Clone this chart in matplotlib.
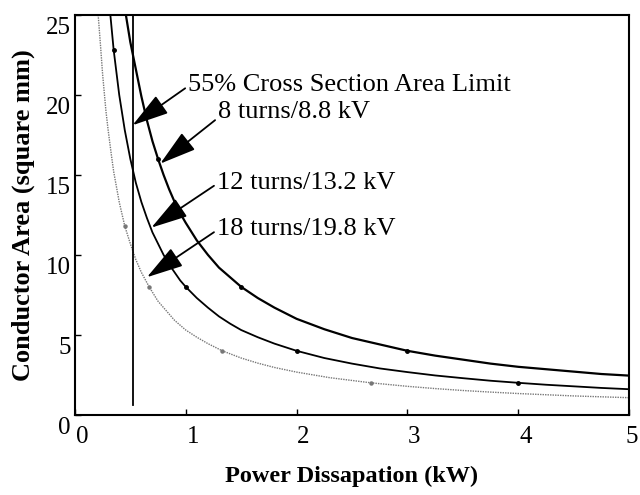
import matplotlib
matplotlib.use('Agg')
import matplotlib.pyplot as plt
from matplotlib.transforms import ScaledTranslation

plt.rcParams['font.family'] = ['Liberation Serif', 'DejaVu Serif']

# 8 turns / 8.8 kV
p_8 = [0.46, 0.50, 0.55, 0.60, 0.65, 0.70, 0.75, 0.80, 0.85, 0.90, 0.95, 1.00,
       1.10, 1.20, 1.30, 1.40, 1.50, 1.65, 1.80, 2.00, 2.25, 2.50, 2.75, 3.00,
       3.25, 3.50, 3.75, 4.00, 4.25, 4.50, 4.75, 5.00]
a_8 = [25.0, 23.3, 21.6, 19.9, 18.4, 17.1, 16.0, 15.0, 14.1, 13.3, 12.6, 12.0,
       10.9, 10.0, 9.2, 8.6, 8.0, 7.3, 6.7, 6.0, 5.35, 4.8, 4.4, 4.0,
       3.7, 3.45, 3.2, 3.0, 2.85, 2.7, 2.55, 2.45]
# 12 turns / 13.2 kV
p_12 = [0.32, 0.35, 0.40, 0.45, 0.50, 0.55, 0.60, 0.65, 0.70, 0.75, 0.80, 0.85,
        0.90, 0.95, 1.00, 1.10, 1.20, 1.30, 1.40, 1.50, 1.65, 1.80, 2.00, 2.25,
        2.50, 2.75, 3.00, 3.25, 3.50, 3.75, 4.00, 4.25, 4.50, 4.75, 5.00]
a_12 = [25.0, 22.8, 20.0, 17.8, 16.0, 14.5, 13.3, 12.3, 11.4, 10.7, 10.0, 9.4,
        8.9, 8.4, 8.0, 7.3, 6.7, 6.15, 5.7, 5.3, 4.85, 4.45, 4.0, 3.55,
        3.2, 2.9, 2.67, 2.46, 2.29, 2.13, 2.0, 1.88, 1.78, 1.68, 1.6]
# 18 turns / 19.8 kV
p_18 = [0.21, 0.23, 0.25, 0.28, 0.30, 0.33, 0.35, 0.40, 0.45, 0.50, 0.55, 0.60,
        0.67, 0.75, 0.80, 0.90, 1.00, 1.10, 1.20, 1.33, 1.50, 1.65, 1.80, 2.00,
        2.30, 2.67, 3.00, 3.25, 3.50, 3.75, 4.00, 4.50, 5.00]
a_18 = [25.0, 23.2, 21.3, 19.0, 17.8, 16.2, 15.2, 13.3, 11.8, 10.7, 9.7, 8.9,
        8.0, 7.1, 6.7, 5.9, 5.3, 4.85, 4.45, 4.0, 3.55, 3.23, 2.96, 2.67,
        2.32, 2.0, 1.78, 1.64, 1.52, 1.42, 1.33, 1.18, 1.07]

# the little dots on each curve
dot_p_8 = [0.75, 1.50, 3.00]
dot_p_12 = [0.35, 1.00, 2.00, 4.00]
dot_p_18 = [0.45, 0.67, 1.33, 2.67]

# 55% cross section area limit (vertical line)
limit_p = [0.52, 0.52]
limit_a = [0.6, 25.0]

fig = plt.figure(figsize=(6.4, 4.95), dpi=100)
ax = fig.add_axes([0.117, 0.162, 0.866, 0.808])

ax.plot(p_8, a_8, color='black', lw=1.6, marker='o', ms=2.5,
        markevery=[p_8.index(v) for v in dot_p_8])
ax.plot(p_12, a_12, color='black', lw=1.3, marker='o', ms=2.5,
        markevery=[p_12.index(v) for v in dot_p_12])
ax.plot(p_18, a_18, color='#777777', lw=1.0, ls=(0, (1, 0.8)), marker='o', ms=2.2,
        markevery=[p_18.index(v) for v in dot_p_18])
ax.plot(limit_p, limit_a, color='black', lw=1.3)

ax.set_xlim(0, 5)
ax.set_ylim(0, 25)
ax.set_xticks([0, 1, 2, 3, 4, 5])
ax.set_yticks([0, 5, 10, 15, 20, 25])
ax.tick_params(direction='in', length=4, width=1, labelsize=18)
ax.tick_params(axis='x', pad=8)
ax.tick_params(axis='y', pad=3)
for s in ax.spines.values():
    s.set_linewidth(1.5)

# scanned original has its tick labels nudged
xlabs = ax.get_xticklabels()
for i, lab in enumerate(xlabs):
    dx = 0.07 if i < len(xlabs) - 1 else 0.03
    lab.set_transform(lab.get_transform() + ScaledTranslation(dx, 0, fig.dpi_scale_trans))
for lab in ax.get_yticklabels():
    lab.set_transform(lab.get_transform() + ScaledTranslation(0, -0.11, fig.dpi_scale_trans))

ax.set_xlabel('Power Dissapation (kW)', fontsize=17.5, fontweight='bold', labelpad=13)
ax.set_ylabel('Conductor Area (square mm)', fontsize=19, fontweight='bold', labelpad=8)

notes = [
    ('55% Cross Section Area Limit', (0.52, 18.1), (1.02, 20.6), 0.45),
    ('8 turns/8.8 kV', (0.77, 15.7), (1.29, 18.9), 0.25),
    ('12 turns/13.2 kV', (0.69, 11.7), (1.28, 14.5), 0.45),
    ('18 turns/19.8 kV', (0.65, 8.6), (1.28, 11.6), 0.45),
]
for txt, tip, pos, ry in notes:
    ax.annotate(txt, xy=tip, xytext=pos, fontsize=19, ha='left', va='center',
                arrowprops=dict(arrowstyle='-|>,head_length=1.2,head_width=0.35',
                                color='black', lw=1.3, shrinkA=0, shrinkB=0,
                                relpos=(0, ry)))

fig.savefig('out.png', dpi=100)
